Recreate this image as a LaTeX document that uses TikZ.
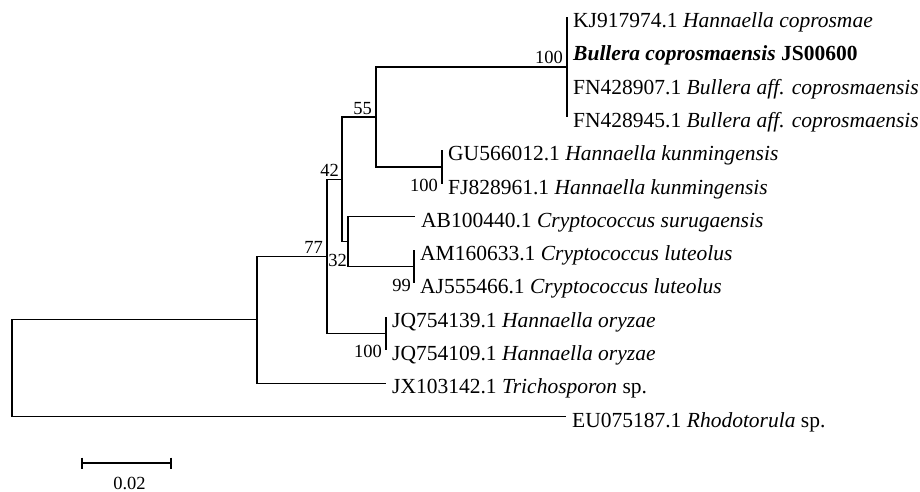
\documentclass[tikz,border=0pt]{standalone}
\usepackage{fontspec}
\setmainfont{Liberation Serif}
\usepackage{tikz}
\usetikzlibrary{positioning}

\begin{document}
\begin{tikzpicture}[x=1pt,y=-1pt]
  \tikzset{branch/.style = {line width=1.2pt, black}}
  \tikzset{taxon/.style = {anchor=base west, inner sep=0pt, xshift=6pt, yshift=-10.5pt, font=\fontsize{21.5}{24}\selectfont}}
  \tikzset{bootup/.style = {anchor=base east, inner sep=0pt, xshift=-4pt, yshift=3pt, font=\fontsize{18.5}{20}\selectfont}}
  \tikzset{bootdown/.style = {anchor=north east, inner sep=0pt, xshift=-4pt, yshift=-12pt, font=\fontsize{18.5}{20}\selectfont}}

  \useasboundingbox (0,0) rectangle (920,492);

	\coordinate (root) at (12,368.2);
	\coordinate (nX) at (257,319.8);
	\coordinate (n77) at (327,256.4);
	\coordinate (n42) at (342,179.4);
	\coordinate (n55) at (376,117);
	\coordinate (nB) at (567,67);
	\coordinate (nG) at (442,166.9);
	\coordinate (n32) at (348,241.8);
	\coordinate (nA) at (414,266.8);
	\coordinate (nJ) at (386,333.4);

	\coordinate (l1) at (567,17);
	\coordinate (l2) at (567,50.3);
	\coordinate (l3) at (567,83.6);
	\coordinate (l4) at (567,116.9);
	\coordinate (l5) at (442,150.2);
	\coordinate (l6) at (442,183.5);
	\coordinate (l7) at (415,216.8);
	\coordinate (l8) at (414,250.1);
	\coordinate (l9) at (414,283.4);
	\coordinate (l10) at (386,316.7);
	\coordinate (l11) at (386,350);
	\coordinate (l12) at (386,383.3);
	\coordinate (l13) at (566,416.6);

    \foreach \from/\to in {root/nX, root/l13, nX/n77, nX/l12, n77/n42, n77/nJ, nJ/l10, nJ/l11, n42/n55, n42/n32, n32/l7, n32/nA, nA/l8, nA/l9, n55/nB, n55/nG, nG/l5, nG/l6, nB/l1, nB/l2, nB/l3, nB/l4}
    \draw[branch] (\from) |- (\to);

	\node[taxon] (t1) at (l1) {KJ917974.1 \textit{Hannaella coprosmae}};
	\node[taxon] (t2) at (l2) {\textbf{\textit{Bullera coprosmaensis} JS00600}};
	\node[taxon] (t3) at (l3) {FN428907.1 \textit{Bullera aff. coprosmaensis}};
	\node[taxon] (t4) at (l4) {FN428945.1 \textit{Bullera aff. coprosmaensis}};
	\node[taxon] (t5) at (l5) {GU566012.1 \textit{Hannaella kunmingensis}};
	\node[taxon] (t6) at (l6) {FJ828961.1 \textit{Hannaella kunmingensis}};
	\node[taxon] (t7) at (l7) {AB100440.1 \textit{Cryptococcus surugaensis}};
	\node[taxon] (t8) at (l8) {AM160633.1 \textit{Cryptococcus luteolus}};
	\node[taxon] (t9) at (l9) {AJ555466.1 \textit{Cryptococcus luteolus}};
	\node[taxon] (t10) at (l10) {JQ754139.1 \textit{Hannaella oryzae}};
	\node[taxon] (t11) at (l11) {JQ754109.1 \textit{Hannaella oryzae}};
	\node[taxon] (t12) at (l12) {JX103142.1 \textit{Trichosporon} sp.};
	\node[taxon] (t13) at (l13) {EU075187.1 \textit{Rhodotorula} sp.};

	\node[bootup] (bB) at (nB) {100};
	\node[bootup] (b55) at (n55) {55};
	\node[bootup, xshift=1pt] (b42) at (n42) {42};
	\node[bootup] (b77) at (n77) {77};
	\node[bootdown] (bG) at (nG) {100};
	\node[bootdown, xshift=3pt] (b32) at (n32) {32};
	\node[bootdown, xshift=1pt] (bA) at (nA) {99};
	\node[bootdown] (bJ) at (nJ) {100};

	\coordinate (sL) at (82,463);
	\coordinate (sR) at (171,463);
	\draw[branch] (sL) -- (sR);
	\draw[branch] ([yshift=5.5pt]sL) -- ([yshift=-5.5pt]sL);
	\draw[branch] ([yshift=5.5pt]sR) -- ([yshift=-5.5pt]sR);
	\node[inner sep=0pt, font=\fontsize{18.5}{20}\selectfont] (sT) at (129.5,483.5) {0.02};

\end{tikzpicture}
\end{document}
